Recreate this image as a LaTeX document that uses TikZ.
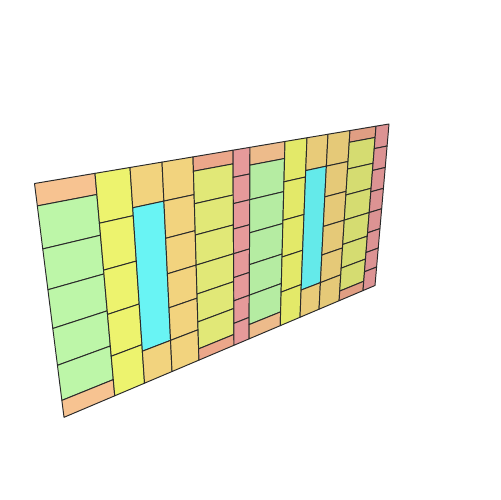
\documentclass[tikz,border=0pt]{standalone}
\definecolor{peach}{HTML}{F9C592}
\definecolor{grn}{HTML}{BFF8AA}
\definecolor{yel}{HTML}{F2F870}
\definecolor{ory}{HTML}{F9DA82}
\definecolor{cya}{HTML}{6CFCFC}
\definecolor{ygr}{HTML}{EAF27C}
\definecolor{salm}{HTML}{F6AE90}
\definecolor{pnk}{HTML}{F2A2A2}
\definecolor{edge}{HTML}{2A2A2A}
% projective map of the wall (u,v in [0,1]) onto the picture, pixel units
\newcommand\hp[2]{({(581.38*(#1)+40.13*(#2)+34.5)/(0.58325*(#1)+0.16613*(#2)+1)},{(12.82*(#1)+303.13*(#2)+183.5)/(0.58325*(#1)+0.16613*(#2)+1)})}
\newcommand\tile[5]{%
  \pgfmathtruncatemacro\shadepct{100-9*((#1)+(#2))/2}%
  \filldraw[tilestyle, fill=#5!\shadepct!black] \hp{#1}{#3} -- \hp{#2}{#3} -- \hp{#2}{#4} -- \hp{#1}{#4} -- cycle;}
\newcommand\colgreen[2]{%
  \tile{#1}{#2}{0}{1/12}{peach}%
  \foreach \k in {0,...,4}{\tile{#1}{#2}{1/12+\k/6}{1/12+(\k+1)/6}{grn}}%
  \tile{#1}{#2}{11/12}{1}{peach}}
\newcommand\colyellow[2]{%
  \foreach \k in {0,...,4}{\tile{#1}{#2}{\k/5}{(\k+1)/5}{yel}}}
\newcommand\colcyan[2]{%
  \tile{#1}{#2}{0}{1/6}{ory}%
  \tile{#1}{#2}{1/6}{5/6}{cya}%
  \tile{#1}{#2}{5/6}{1}{ory}}
\newcommand\colorange[2]{%
  \foreach \k in {0,...,5}{\tile{#1}{#2}{\k/6}{(\k+1)/6}{ory}}}
\newcommand\colyg[2]{%
  \tile{#1}{#2}{0}{1/16}{salm}%
  \foreach \k in {0,...,5}{\tile{#1}{#2}{1/16+\k*7/48}{1/16+(\k+1)*7/48}{ygr}}%
  \tile{#1}{#2}{15/16}{1}{salm}}
\newcommand\colpink[2]{%
  \foreach \k in {0,...,7}{\tile{#1}{#2}{\k/8}{(\k+1)/8}{pnk}}}
\begin{document}
\begin{tikzpicture}[x=0.02cm,y=-0.02cm,
  tilestyle/.style={draw=edge, line width=0.55pt, line join=round}]
\useasboundingbox (0,0) rectangle (500,500);
% module 1
\colgreen{0}{0.1150}
\colyellow{0.1150}{0.1889}
\colcyan{0.1889}{0.2619}
\colorange{0.2619}{0.3381}
\colyg{0.3381}{0.4456}
\colpink{0.4456}{0.4948}
% module 2
\colgreen{0.4948}{0.6034}
\colyellow{0.6034}{0.6773}
\colcyan{0.6773}{0.7524}
\colorange{0.7524}{0.8363}
\colyg{0.8363}{0.9432}
\colpink{0.9432}{1}
\end{tikzpicture}
\end{document}
